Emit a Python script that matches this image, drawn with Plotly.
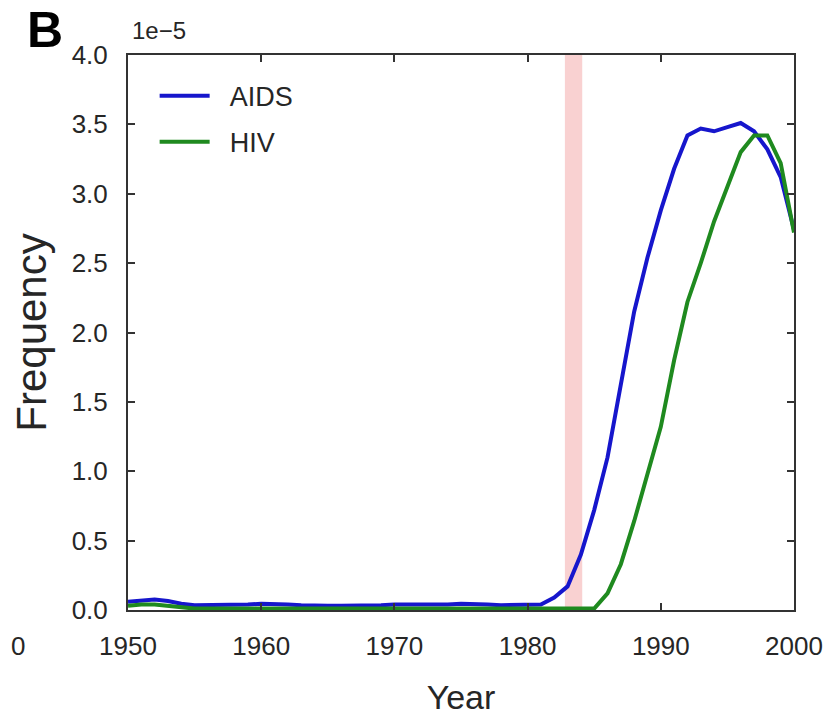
import plotly.graph_objects as go

years = list(range(1950, 2001))
aids = [0.06, 0.07, 0.075, 0.065, 0.045, 0.035, 0.035, 0.035, 0.035, 0.04,
        0.045, 0.045, 0.04, 0.035, 0.03, 0.03, 0.03, 0.03, 0.035, 0.035,
        0.04, 0.04, 0.035, 0.035, 0.04, 0.045, 0.045, 0.04, 0.035, 0.035,
        0.035, 0.04, 0.09, 0.17, 0.40, 0.72, 1.10, 1.62, 2.15, 2.54,
        2.88, 3.18, 3.42, 3.47, 3.45, 3.48, 3.51, 3.45, 3.32, 3.12, 2.74]
hiv = [0.03, 0.04, 0.04, 0.03, 0.02, 0.01, 0.01, 0.01, 0.01, 0.01,
       0.01, 0.01, 0.01, 0.01, 0.01, 0.01, 0.01, 0.01, 0.01, 0.01,
       0.01, 0.01, 0.01, 0.01, 0.01, 0.01, 0.01, 0.01, 0.01, 0.01,
       0.01, 0.01, 0.01, 0.01, 0.01, 0.01, 0.12, 0.33, 0.64, 0.98,
       1.32, 1.80, 2.22, 2.50, 2.80, 3.05, 3.30, 3.42, 3.42, 3.22, 2.72]
band = [1982.8, 1984.1]
x_ticks = [1950, 1960, 1970, 1980, 1990, 2000]
y_ticks = [0.0, 0.5, 1.0, 1.5, 2.0, 2.5, 3.0, 3.5, 4.0]
y_ticktext = ["0.0", "0.5", "1.0", "1.5", "2.0", "2.5", "3.0", "3.5", "4.0"]

FONT = "Liberation Sans, Arial, sans-serif"
TXT = "#262626"
NB = "\u00a0\u00a0"

fig = go.Figure()
fig.add_vrect(x0=band[0], x1=band[1], fillcolor="#f7c5c5", opacity=0.8,
              line_width=0, layer="below")
fig.add_trace(go.Scatter(x=years, y=aids, mode="lines", name=NB + "AIDS",
                         line=dict(color="#1616cc", width=4), legendgroup="a"))
fig.add_trace(go.Scatter(x=years, y=hiv, mode="lines", name=NB + "HIV",
                         line=dict(color="#1f8a1f", width=4), legendgroup="h"))

axis_common = dict(showline=True, linecolor="#333333", linewidth=2, mirror="ticks",
                   ticks="inside", ticklen=7, tickwidth=1.5, tickcolor="#333333",
                   showgrid=False, zeroline=False, automargin=False,
                   tickfont=dict(size=26, color=TXT, family=FONT))

fig.update_xaxes(range=[1950, 2000], tickvals=x_ticks, ticklabelstandoff=12,
                 title=dict(text="Year", font=dict(size=34, color=TXT, family=FONT),
                            standoff=25),
                 **axis_common)
fig.update_yaxes(range=[0, 4.0], tickvals=y_ticks, ticktext=y_ticktext,
                 ticklabelstandoff=13,
                 title=dict(text="Frequency", font=dict(size=42, color=TXT, family=FONT),
                            standoff=16),
                 **axis_common)

fig.add_annotation(text="1e\u22125", x=0.003, xref="paper", xanchor="left",
                   y=1 + 25 / 555, yref="paper", yanchor="middle", showarrow=False,
                   font=dict(size=24, color=TXT, family=FONT))
fig.add_annotation(text="<b>B</b>", x=-103 / 666, xref="paper", xanchor="left",
                   y=1 + 25 / 555, yref="paper", yanchor="middle", showarrow=False,
                   font=dict(size=50, color="#000000", family=FONT))
fig.add_annotation(text="0", x=-119 / 666, xref="paper", xanchor="left",
                   y=-36 / 555, yref="paper", yanchor="middle", showarrow=False,
                   font=dict(size=26, color=TXT, family=FONT))

fig.update_layout(
    width=840, height=718,
    margin=dict(l=120, r=54, t=47, b=116),
    paper_bgcolor="white", plot_bgcolor="white",
    font=dict(family=FONT, color=TXT),
    legend=dict(x=0.04, y=0.97, xanchor="left", yanchor="top",
                font=dict(size=27, color=TXT, family=FONT),
                bgcolor="rgba(0,0,0,0)", tracegroupgap=8,
                traceorder="grouped", itemwidth=50),
)

fig.write_html("out.html")
